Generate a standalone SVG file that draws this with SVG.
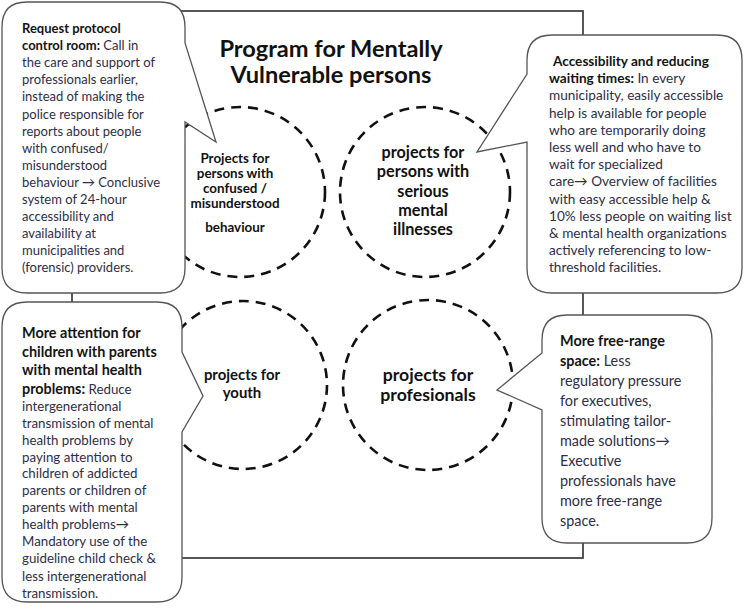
<svg xmlns="http://www.w3.org/2000/svg" width="744" height="612" viewBox="0 0 744 612">
<style>
.bg{fill:#fff}
.frame{fill:none;stroke:#3a3a3a;stroke-width:1.7}
.callout{fill:#fff;stroke:#555;stroke-width:1.3;stroke-linejoin:miter}
.ring{fill:none;stroke:#111;stroke-width:2.6;stroke-dasharray:10 7}
.title{font-family:Lato,"Liberation Sans",sans-serif;font-weight:700;font-size:23.6px;fill:#111;text-anchor:middle}
.ct{font-family:Lato,"Liberation Sans",sans-serif;font-weight:700;fill:#111;text-anchor:middle}
.body{font-family:Lato,"Liberation Sans",sans-serif;fill:#2e2e48}
.b{font-weight:700;fill:#141414}
</style>
<rect class="bg" x="0" y="0" width="744" height="612"/>
<g id="frame"><rect class="frame" x="72" y="11" width="511" height="547"/></g>
<g id="title"><text class="title" x="331" y="57">Program for Mentally</text><text class="title" x="331" y="83">Vulnerable persons</text></g>

<g id="circle-confused">
<circle class="ring" cx="240" cy="192" r="85"/>
<text class="ct" font-size="13.4">
<tspan x="235" y="163">Projects for</tspan><tspan x="235" y="178">persons with</tspan><tspan x="235" y="193">confused /</tspan><tspan x="235" y="208">misunderstood</tspan><tspan x="235" y="232">behaviour</tspan></text>
</g>
<g id="circle-serious">
<circle class="ring" cx="425" cy="192" r="85"/>
<text class="ct" font-size="16.2">
<tspan x="423" y="158">projects for</tspan><tspan x="423" y="177">persons with</tspan><tspan x="423" y="197">serious</tspan><tspan x="423" y="216">mental</tspan><tspan x="423" y="235">illnesses</tspan></text>
</g>
<g id="circle-youth">
<circle class="ring" cx="243" cy="385" r="84"/>
<text class="ct" font-size="14.9"><tspan x="242" y="380">projects for</tspan><tspan x="242" y="398">youth</tspan></text>
</g>
<g id="circle-professionals">
<circle class="ring" cx="428" cy="385" r="85"/>
<text class="ct" font-size="17.7"><tspan x="428" y="381">projects for</tspan><tspan x="428" y="401">profesionals</tspan></text>
</g>

<g id="callout-control-room">
<path class="callout" d="M27,2 H160 Q185,2 185,27 V43 L216,142 L185,122 V268 Q185,293 160,293 H27 Q2,293 2,268 V27 Q2,2 27,2 Z"/>
<text class="body" font-size="13">
<tspan x="22" y="33" class="b">Request protocol</tspan>
<tspan x="22" y="50.1"><tspan class="b">control room:</tspan> Call in</tspan>
<tspan x="22" y="67.2">the care and support of</tspan>
<tspan x="22" y="84.3">professionals earlier,</tspan>
<tspan x="22" y="101.4">instead of making the</tspan>
<tspan x="22" y="118.5">police responsible for</tspan>
<tspan x="22" y="135.6">reports about people</tspan>
<tspan x="22" y="152.7">with confused/</tspan>
<tspan x="22" y="169.8">misunderstood</tspan>
<tspan x="22" y="186.9">behaviour → Conclusive</tspan>
<tspan x="22" y="204">system of 24-hour</tspan>
<tspan x="22" y="221.1">accessibility and</tspan>
<tspan x="22" y="238.2">availability at</tspan>
<tspan x="22" y="255.3">municipalities and</tspan>
<tspan x="22" y="272.4">(forensic) providers.</tspan>
</text>
</g>

<g id="callout-accessibility">
<path class="callout" d="M552,35 H717 Q742,35 742,60 V268 Q742,293 717,293 H552 Q527,293 527,268 V142 L477,152 L527,74 V60 Q527,35 552,35 Z"/>
<text class="body" font-size="13.6">
<tspan x="553" y="66" class="b">Accessibility and reducing</tspan>
<tspan x="549" y="83.2"><tspan class="b">waiting times:</tspan> In every</tspan>
<tspan x="549" y="100.4">municipality, easily accessible</tspan>
<tspan x="549" y="117.6">help is available for people</tspan>
<tspan x="549" y="134.8">who are temporarily doing</tspan>
<tspan x="549" y="152">less well and who have to</tspan>
<tspan x="549" y="169.2">wait for specialized</tspan>
<tspan x="549" y="186.4">care→ Overview of facilities</tspan>
<tspan x="549" y="203.6">with easy accessible help &amp;</tspan>
<tspan x="549" y="220.8">10% less people on waiting list</tspan>
<tspan x="549" y="238">&amp; mental health organizations</tspan>
<tspan x="549" y="255.2">actively  referencing to low-</tspan>
<tspan x="549" y="272.4">threshold facilities.</tspan>
</text>
</g>

<g id="callout-children">
<path class="callout" d="M27,302 H157 Q182,302 182,327 V352 L203,396 L182,432 V577 Q182,602 157,602 H27 Q2,602 2,577 V327 Q2,302 27,302 Z"/>
<text class="body" font-size="13.3">
<tspan x="22" y="338" class="b" font-size="14.4">More attention for</tspan>
<tspan x="22" y="356.5" class="b" font-size="14.4">children with parents</tspan>
<tspan x="22" y="375" class="b" font-size="14.4">with mental health</tspan>
<tspan x="22" y="394"><tspan class="b" font-size="14.4">problems:</tspan> Reduce</tspan>
<tspan x="22" y="411">intergenerational</tspan>
<tspan x="22" y="428">transmission of mental</tspan>
<tspan x="22" y="444.8">health problems by</tspan>
<tspan x="22" y="461.6">paying attention to</tspan>
<tspan x="22" y="478.4">children of addicted</tspan>
<tspan x="22" y="495.2">parents or children of</tspan>
<tspan x="22" y="512">parents with mental</tspan>
<tspan x="22" y="528.8">health problems→</tspan>
<tspan x="22" y="545.6">Mandatory use of the</tspan>
<tspan x="22" y="562.6">guideline child check &amp;</tspan>
<tspan x="22" y="580.6">less intergenerational</tspan>
<tspan x="22" y="597.6">transmission.</tspan>
</text>
</g>

<g id="callout-free-range">
<path class="callout" d="M567,315 H687 Q712,315 712,340 V518 Q712,543 687,543 H567 Q542,543 542,518 V410 L497,390 L542,353 V340 Q542,315 567,315 Z"/>
<text class="body" font-size="14.4">
<tspan x="560" y="346" class="b">More free-range</tspan>
<tspan x="560" y="366"><tspan class="b">space:</tspan> Less</tspan>
<tspan x="560" y="386">regulatory pressure</tspan>
<tspan x="560" y="406">for executives,</tspan>
<tspan x="560" y="426">stimulating tailor-</tspan>
<tspan x="560" y="446">made solutions→</tspan>
<tspan x="560" y="466">Executive</tspan>
<tspan x="560" y="486">professionals have</tspan>
<tspan x="560" y="506">more free-range</tspan>
<tspan x="560" y="526">space.</tspan>
</text>
</g>
</svg>
